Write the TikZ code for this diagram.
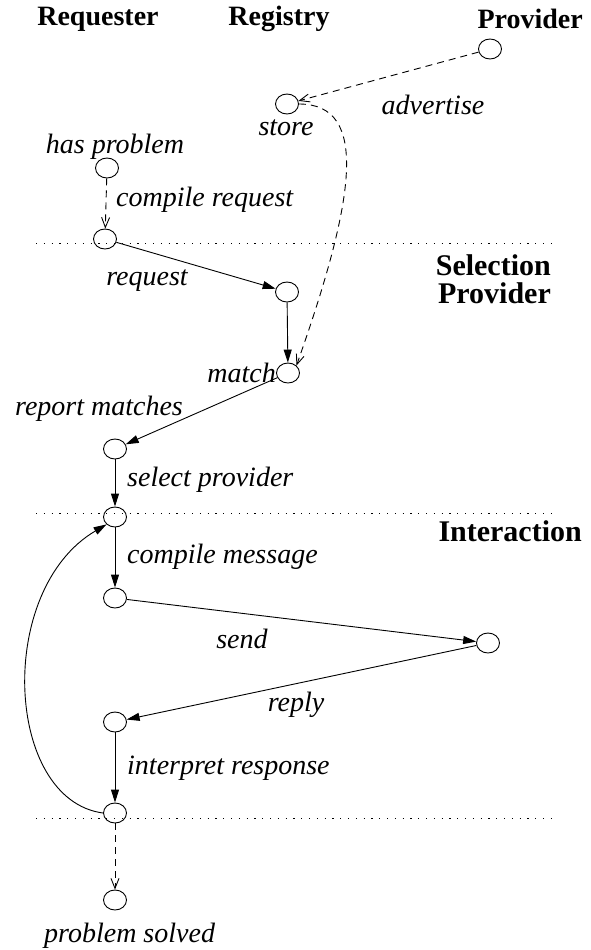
\documentclass[tikz,border=0pt]{standalone}
\usepackage{fontspec}
\setmainfont{Liberation Serif}
\usetikzlibrary{arrows.meta,shapes.geometric}
\begin{document}
\begin{tikzpicture}[x=1pt,y=-1pt,
  st/.style={draw,ellipse,minimum width=23pt,minimum height=20pt,inner sep=0pt,line width=0.9pt},
  lab/.style={font=\fontsize{28}{26}\selectfont\itshape,inner sep=0pt},
  hdr/.style={font=\fontsize{28}{26}\selectfont\bfseries,inner sep=0pt},
  phase/.style={font=\fontsize{30}{28}\selectfont\bfseries,inner sep=0pt},
  flow/.style={line width=0.9pt,-{Triangle[length=13pt,width=8pt]}},
  msg/.style={line width=0.9pt,dash pattern=on 7pt off 5pt,-{Straight Barb[length=10pt,width=8pt]}},
  sep/.style={line width=1pt,dash pattern=on 1.2pt off 6.6pt}]
\useasboundingbox (0,0) rectangle (590,950);

% headers
\node[hdr] (hreq) at (98,19) {Requester};
\node[hdr] (hreg) at (279,19) {Registry};
\node[hdr,anchor=east] (hpro) at (583,19) {Provider};

% separators
\coordinate (s1l) at (36,243); \coordinate (s1r) at (558,243);
\coordinate (s2l) at (36,513); \coordinate (s2r) at (558,513);
\coordinate (s3l) at (36,818); \coordinate (s3r) at (558,818);
\draw[sep] (s1l) -- (s1r);
\draw[sep] (s2l) -- (s2r);
\draw[sep] (s3l) -- (s3r);

% phase titles
\node[phase,align=right,anchor=east] (tsel) at (551,279) {Selection\\Provider};
\node[phase,anchor=east] (tint) at (582,531) {Interaction};

% states
\node[st] (P1) at (490,49) {};
\node[st] (S)  at (287,104) {};
\node[st] (H)  at (107,168) {};
\node[st] (R1) at (105,239) {};
\node[st] (G1) at (287,292) {};
\node[st] (M)  at (288,373) {};
\node[st] (R2) at (115,449) {};
\node[st] (R3) at (115,517) {};
\node[st] (R4) at (115,598) {};
\node[st] (P2) at (488,643) {};
\node[st] (R5) at (115,722) {};
\node[st] (R6) at (115,813) {};
\node[st] (R7) at (115,900) {};

% labels
\node[lab] (ladv) at (433,105) {advertise};
\node[lab] (lsto) at (286,128) {store};
\node[lab] (lhas) at (115,147) {has problem};
\node[lab,anchor=west] (lcreq) at (116,200) {compile request};
\node[lab] (lreq) at (147,281) {request};
\node[lab,anchor=east] (lmat) at (M.west) {match};
\node[lab,anchor=west] (lrep) at (15,409) {report matches};
\node[lab,anchor=west] (lsel) at (127,480) {select provider};
\node[lab,anchor=west] (lcmsg) at (127,557) {compile message};
\node[lab] (lsend) at (242,639) {send};
\node[lab] (lrepl) at (296,705) {reply};
\node[lab,anchor=west] (lint) at (127,768) {interpret response};
\node[lab,anchor=west] (lsol) at (44,936) {problem solved};

% connectors
\draw[msg] (P1) -- (S);
\draw[msg] (S.east) .. controls (370,104) and (355,200) .. (M.north east);
\draw[msg] (H) -- (R1);
\draw[flow] (R1) -- (G1);
\draw[flow] (G1) -- (M);
\draw[flow] (M) -- (R2);
\draw[flow] (R2) -- (R3);
\draw[flow] (R3) -- (R4);
\draw[flow] (R4) -- (P2);
\draw[flow] (P2) -- (R5);
\draw[flow] (R5) -- (R6);
\draw[flow] (R6.west) .. controls (5,800) and (-5,590) .. (R3.south west);
\draw[msg] (R6) -- (R7);
\end{tikzpicture}
\end{document}
